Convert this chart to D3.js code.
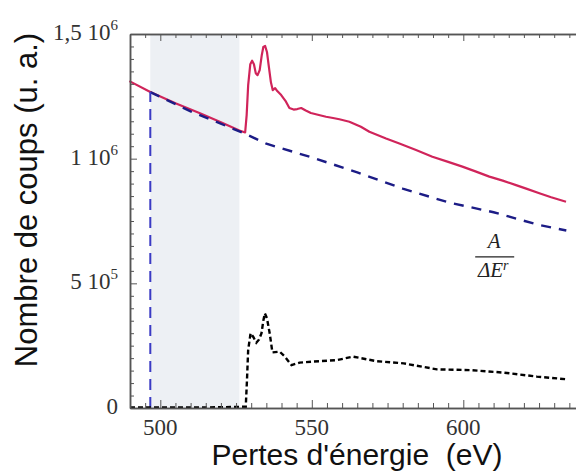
<!DOCTYPE html>
<html><head><meta charset="utf-8">
<script src="https://cdn.jsdelivr.net/npm/d3@7"></script>
<style>body{margin:0;background:#fff}svg{display:block}</style>
</head><body>
<script>
// ---- data ----
const totalE = [489.8,496.7,505,512.9,520,526.1,528.0,528.5,529.0,529.7,530.3,530.9,531.5,532.1,532.8,533.5,534.0,534.6,535.2,535.8,536.5,537.1,537.9,538.6,539.9,541.3,542.6,544.0,545.2,546.5,548.0,549.7,552,554.7,557,559.1,562.4,566.2,569.0,574.5,578.9,584.4,589.8,595,599.7,604,608.6,613,617.4,621,625.1,629,633.9];
const totalV = [1.311e6,1.267e6,1.222e6,1.183e6,1.146e6,1.113e6,1.105e6,1.175e6,1.295e6,1.379e6,1.393e6,1.379e6,1.343e6,1.335e6,1.355e6,1.416e6,1.448e6,1.452e6,1.428e6,1.371e6,1.307e6,1.275e6,1.283e6,1.271e6,1.255e6,1.232e6,1.203e6,1.197e6,1.199e6,1.203e6,1.193e6,1.183e6,1.176e6,1.168e6,1.163e6,1.158e6,1.148e6,1.128e6,1.108e6,1.081e6,1.061e6,1.035e6,1.008e6,9.87e5,9.68e5,9.49e5,9.28e5,9.12e5,8.94e5,8.79e5,8.61e5,8.45e5,8.27e5];
const bgE = [496.7,510,528,535,550,565,580,595,610,625,634];
const bgV = [1.267e6,1.19e6,1.10e6,1.06e6,1.005e6,9.45e5,8.80e5,8.25e5,7.85e5,7.34e5,7.12e5];
const sigE = [490,500,510,520,527,528.2,528.6,529.0,529.8,530.7,531.7,532.6,533.4,534.0,534.5,535.2,536.1,537.0,539.4,541.1,543.3,546.0,550.4,558.2,563.6,571.3,580.3,591.3,602.3,613.3,624.3,634.2];
const sigV = [2000,2000,2000,3000,5000,5000,1.1e5,2.33e5,3.0e5,2.85e5,2.62e5,2.75e5,3.0e5,3.5e5,3.80e5,3.6e5,3.0e5,2.23e5,2.26e5,2.06e5,1.72e5,1.82e5,1.86e5,1.92e5,2.06e5,1.88e5,1.79e5,1.55e5,1.52e5,1.42e5,1.26e5,1.15e5];
const fitStartE = 496.7;
const shadeRange = [496.7, 526.1];
const xMajorTicks = [500, 550, 600];
const xTickLabels = ["500", "550", "600"];
const yMajorTicks = [0, 5e5, 1e6, 1.5e6];
const yTickMantissa = ["0", "5 10", "1 10", "1,5 10"];
const yTickExponent = ["", "5", "6", "6"];
const xTitle = "Pertes d'énergie  (eV)";
const yTitle = "Nombre de coups (u. a.)";
const formulaPos = [610.2, 6.06e5];

// ---- chart ----
const W = 576, H = 472;
const svg = d3.select("body").append("svg").attr("width", W).attr("height", H);
const x = d3.scaleLinear().domain([490, 640]).range([130, 584.5]);
const y = d3.scaleLinear().domain([0, 1.5e6]).range([408, 34]);

svg.append("rect")
  .attr("x", x(shadeRange[0])).attr("y", y(1.5e6))
  .attr("width", x(shadeRange[1]) - x(shadeRange[0]))
  .attr("height", y(0) - y(1.5e6))
  .attr("fill", "#edf0f4");

const line = d3.line().x(d => x(d[0])).y(d => y(d[1]));
const zip = (a, b) => a.map((v, i) => [v, b[i]]);

// total spectrum
svg.append("path").datum(zip(totalE, totalV)).attr("d", line)
  .attr("fill", "none").attr("stroke", "#d0245a").attr("stroke-width", 2.2)
  .attr("stroke-linejoin", "round");
// background fit
svg.append("path").datum(zip(bgE, bgV)).attr("d", line)
  .attr("fill", "none").attr("stroke", "#1c1c86").attr("stroke-width", 2.4)
  .attr("stroke-dasharray", "10,8");
// vertical start of fit
svg.append("path").datum([[fitStartE, 0], [fitStartE, bgV[0]]]).attr("d", line)
  .attr("fill", "none").attr("stroke", "#3b3bc4").attr("stroke-width", 2)
  .attr("stroke-dasharray", "11,7");
// subtracted signal
svg.append("path").datum(zip(sigE, sigV)).attr("d", line)
  .attr("fill", "none").attr("stroke", "#000").attr("stroke-width", 2.4)
  .attr("stroke-dasharray", "5,3");

// axes
const xMinor = d3.range(490, 641, 5).filter(v => v % 50 !== 0);
const yMinor = d3.range(0, 1.5e6 + 1, 5e4).filter(v => v % 5e5 !== 0);
function styleAxis(g) {
  g.selectAll(".domain").attr("stroke", "#555").attr("stroke-width", 1.5);
  g.selectAll(".tick line").attr("stroke", "#555").attr("stroke-width", 1);
  g.selectAll(".tick text").remove();
}
const gB = svg.append("g").attr("transform", `translate(0,${y(0)})`);
gB.append("g").call(d3.axisBottom(x).tickValues(xMinor).tickSizeInner(-5).tickSizeOuter(0).tickFormat("")).call(styleAxis);
gB.append("g").call(d3.axisBottom(x).tickValues(xMajorTicks).tickSizeInner(-8).tickSizeOuter(0).tickFormat("")).call(styleAxis);
const gT = svg.append("g").attr("transform", `translate(0,${y(1.5e6)})`);
gT.append("g").call(d3.axisTop(x).tickValues(xMinor).tickSizeInner(-4).tickSizeOuter(0).tickFormat("")).call(styleAxis);
gT.append("g").call(d3.axisTop(x).tickValues(xMajorTicks).tickSizeInner(-7).tickSizeOuter(0).tickFormat("")).call(styleAxis);
const gL = svg.append("g").attr("transform", `translate(${x(490)},0)`);
gL.append("g").call(d3.axisLeft(y).tickValues(yMinor).tickSizeInner(-4).tickSizeOuter(0).tickFormat("")).call(styleAxis);
gL.append("g").call(d3.axisLeft(y).tickValues(yMajorTicks).tickSizeInner(-7).tickSizeOuter(0).tickFormat("")).call(styleAxis);

// tick labels
const serif = "'Liberation Serif', 'Times New Roman', serif";
svg.selectAll(".xl").data(xMajorTicks).join("text")
  .attr("x", d => x(d)).attr("y", 435)
  .attr("text-anchor", "middle").attr("font-family", serif).attr("font-size", 23)
  .attr("fill", "#333").text((d, i) => xTickLabels[i]);
const yl = svg.selectAll(".yl").data(yMajorTicks).join("text")
  .attr("x", 118).attr("y", d => y(d) + 6)
  .attr("text-anchor", "end").attr("font-family", serif).attr("font-size", 23)
  .attr("fill", "#333");
yl.append("tspan").text((d, i) => yTickMantissa[i]);
yl.append("tspan").attr("dy", -10).attr("font-size", 15).text((d, i) => yTickExponent[i]);

// titles
svg.append("text").attr("x", 357).attr("y", 465).attr("text-anchor", "middle")
  .attr("font-family", "'Liberation Sans', Arial, sans-serif").attr("font-size", 30)
  .attr("fill", "#111").attr("xml:space", "preserve").style("white-space", "pre").text(xTitle);
svg.append("text").attr("transform", "translate(37,200) rotate(-90)").attr("text-anchor", "middle")
  .attr("font-family", "'Liberation Sans', Arial, sans-serif").attr("font-size", 31)
  .attr("fill", "#111").text(yTitle);

// formula annotation A / ΔE^r
const fx = x(formulaPos[0]), fy = y(formulaPos[1]);
svg.append("text").attr("x", fx).attr("y", fy - 9).attr("text-anchor", "middle")
  .attr("font-family", serif).attr("font-style", "italic").attr("font-size", 21)
  .attr("fill", "#222").text("A");
svg.append("line").attr("x1", fx - 19).attr("x2", fx + 20).attr("y1", fy).attr("y2", fy)
  .attr("stroke", "#222").attr("stroke-width", 1.2);
const den = svg.append("text").attr("x", fx - 1).attr("y", fy + 20).attr("text-anchor", "middle")
  .attr("font-family", serif).attr("font-style", "italic").attr("font-size", 21).attr("fill", "#222");
den.append("tspan").text("ΔE");
den.append("tspan").attr("dy", -7).attr("font-size", 14).text("r");
</script>
</body></html>
